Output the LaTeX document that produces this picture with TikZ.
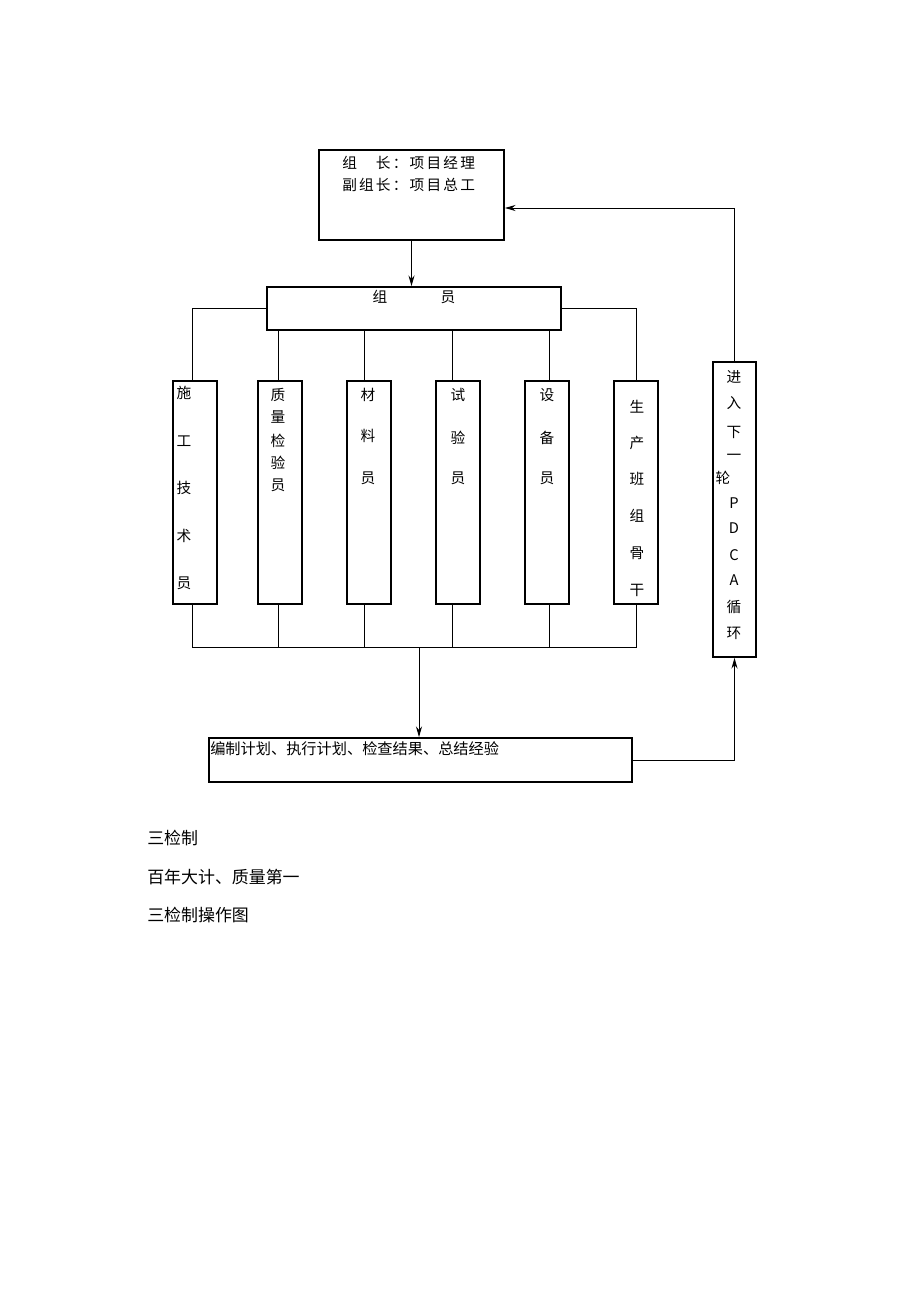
\documentclass[tikz,border=0pt]{standalone}
\usepackage{fontspec}
\setmainfont{Noto Sans CJK SC}
\newfontfamily\spaced[LetterSpace=15]{Noto Sans CJK SC}
\usetikzlibrary{arrows.meta,positioning}

\begin{document}
\begin{tikzpicture}[x=0.75pt,y=-0.75pt,
  box/.style={draw, line width=1.3pt, rectangle, inner sep=0pt},
  colbox/.style={box, minimum width=33pt, minimum height=167.25pt},
  link/.style={draw, line width=0.7pt},
  arr/.style={link, -{Stealth[length=8pt,width=4.5pt]}},
  ch/.style={inner sep=0pt, font=\fontsize{11}{11}\selectfont},
  txt/.style={inner sep=0pt, anchor=west, font=\fontsize{11.4}{11.4}\selectfont},
  caption/.style={inner sep=0pt, anchor=west, font=\fontsize{12.7}{12.7}\selectfont}]
\useasboundingbox[fill=white] (0,0) rectangle (920,1302);
% boxes
\node[box, minimum width=138.75pt, minimum height=67.5pt] (lead) at (411.5,195) {};
\node[box, minimum width=220.5pt, minimum height=32.25pt] (members) at (414,308.5) {};
\foreach \n/\x in {1/195,2/280,3/369,4/458,5/547,6/636}
  \node[colbox] (c\n) at (\x,492.5) {};
\node[box, minimum width=32.25pt, minimum height=221.25pt] (next) at (734.5,509.5) {};
\node[box, minimum width=317.25pt, minimum height=33pt] (plan) at (420.5,760) {};
% texts
\node[txt, font=\spaced\fontsize{11}{11}\selectfont] (t1) at (342,163) {组　长：项目经理};
\node[txt, font=\spaced\fontsize{11}{11}\selectfont] (t2) at (342,185) {副组长：项目总工};
\node[ch] (m1) at (380,297) {组};
\node[ch] (m2) at (448,297) {员};
\foreach \c/\y in {施/393,工/441,技/488,术/536,员/583}
  \node[ch] at (184,\y) {\c};
\foreach \c/\y in {质/395,量/417,检/441,验/463,员/485}
  \node[ch] at (278,\y) {\c};
\foreach \c/\y in {材/395,料/436,员/478}
  \node[ch] at (368,\y) {\c};
\foreach \c/\y in {试/395,验/438,员/478}
  \node[ch] at (458,\y) {\c};
\foreach \c/\y in {设/395,备/438,员/478}
  \node[ch] at (547,\y) {\c};
\foreach \c/\y in {生/407,产/443,班/479,组/516,骨/553,干/590}
  \node[ch] at (637,\y) {\c};
\foreach \c/\y in {进/377,入/403,下/432,一/457,P/503,D/528,C/555,A/580,循/607,环/633}
  \node[ch] at (734,\y) {\c};
\node[ch] at (723,478) {轮};
\node[txt] (p1) at (210,749) {编制计划、执行计划、检查结果、总结经验};
% connectors
\path[arr] (lead.south) -- (members.north -| lead.south);
\path[link] (members.west) -| ([xshift=-2.25pt]c1.north);
\path[link] (members.east) -| (c6.north);
\path[link] ([xshift=-1.5pt]c2.north |- members.south) -- ([xshift=-1.5pt]c2.north);
\path[link] ([xshift=-3.75pt]c3.north |- members.south) -- ([xshift=-3.75pt]c3.north);
\path[link] ([xshift=-4.5pt]c4.north |- members.south) -- ([xshift=-4.5pt]c4.north);
\path[link] ([xshift=1.5pt]c5.north |- members.south) -- ([xshift=1.5pt]c5.north);
\coordinate (busL) at (192,647);
\coordinate (busR) at (636,647);
\path[link] ([xshift=-2.25pt]c1.south) -- (busL) -- (busR) -- (c6.south);
\path[link] ([xshift=-1.5pt]c2.south) -- ([xshift=-1.5pt]c2.south |- busL);
\path[link] ([xshift=-3.75pt]c3.south) -- ([xshift=-3.75pt]c3.south |- busL);
\path[link] ([xshift=-4.5pt]c4.south) -- ([xshift=-4.5pt]c4.south |- busL);
\path[link] ([xshift=1.5pt]c5.south) -- ([xshift=1.5pt]c5.south |- busL);
\path[arr] ([xshift=-1.125pt]plan.north |- busL) -- ([xshift=-1.125pt]plan.north);
\path[arr] (plan.east) -| (next.south);
\path[arr] (next.north) |- ([yshift=-9.75pt]lead.east);
% captions
\node[caption] (cap1) at (147,838) {三检制};
\node[caption] (cap2) at (147,877) {百年大计、质量第一};
\node[caption] (cap3) at (147,915) {三检制操作图};
\end{tikzpicture}
\end{document}
